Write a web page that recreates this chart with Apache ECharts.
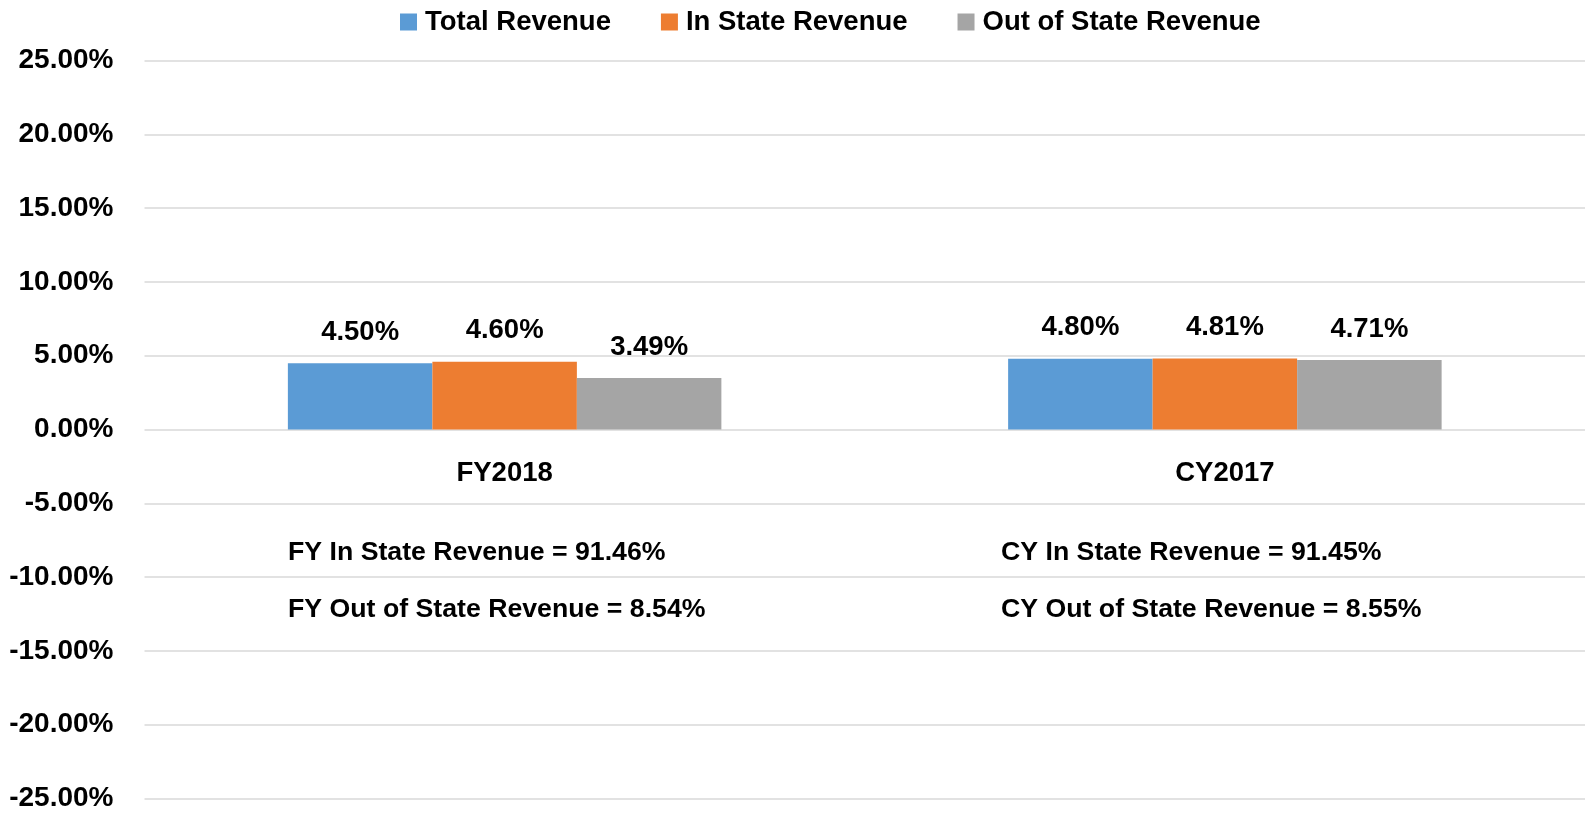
<!DOCTYPE html>
<html>
<head>
<meta charset="utf-8">
<title>Revenue growth</title>
<script src="https://cdn.jsdelivr.net/npm/echarts@6/dist/echarts.min.js"></script>
<style>
  html, body { margin: 0; padding: 0; background: #fff; }
  #chart { width: 1585px; height: 815px; }
</style>
</head>
<body>
<div id="chart"></div>
<script>
const categories = ['FY2018', 'CY2017'];
const totalRevenue = [4.50, 4.80];
const inStateRevenue = [4.60, 4.81];
const outOfStateRevenue = [3.49, 4.71];
const seriesNames = ['Total Revenue', 'In State Revenue', 'Out of State Revenue'];
const colors = ['#5B9BD5', '#ED7D31', '#A5A5A5'];
const notesFY = ['FY In State Revenue = 91.46%', 'FY Out of State Revenue = 8.54%'];
const notesCY = ['CY In State Revenue = 91.45%', 'CY Out of State Revenue = 8.55%'];

const FONT = '"Liberation Sans", Arial, sans-serif';

const chart = echarts.init(document.getElementById('chart'));

const barSeries = [totalRevenue, inStateRevenue, outOfStateRevenue].map((vals, i) => ({
  name: seriesNames[i],
  type: 'bar',
  data: vals,
  barWidth: 144.5,
  barGap: '0%',
  itemStyle: { color: colors[i] },
  label: {
    show: true,
    position: 'top',
    distance: 17,
    color: '#000',
    fontFamily: FONT,
    fontWeight: 'bold',
    fontSize: 27.5,
    formatter: (p) => p.value.toFixed(2) + '%',
  },
}));

// text boxes under each category
const noteText = (lines, left) =>
  lines.map((t, i) => ({
    type: 'text',
    left: left,
    top: 539 + i * 57,
    style: {
      text: t,
      fill: '#000',
      font: 'bold 26.7px ' + FONT,
    },
  }));

const option = {
  backgroundColor: '#fff',
  animation: false,
  legend: {
    left: 395,
    top: 3,
    itemWidth: 17,
    itemHeight: 17,
    itemGap: 50,
    icon: 'rect',
    textStyle: {
      color: '#000',
      fontFamily: FONT,
      fontWeight: 'bold',
      fontSize: 27.5,
      padding: [0, 0, 0, 3],
    },
    data: seriesNames,
  },
  grid: {
    left: 144.5,
    right: 0,
    top: 60.6,
    bottom: 16.5,
    containLabel: false,
    outerBoundsMode: 'none',
  },
  xAxis: {
    type: 'category',
    data: categories,
    position: 'bottom',
    // category labels sit just under the 0% line
    offset: -369,
    axisLine: { show: false, onZero: false },
    axisTick: { show: false },
    axisLabel: {
      margin: 30,
      color: '#000',
      fontFamily: FONT,
      fontWeight: 'bold',
      fontSize: 27.5,
    },
  },
  yAxis: {
    type: 'value',
    min: -25,
    max: 25,
    interval: 5,
    axisLine: { show: false },
    axisTick: { show: false },
    splitLine: { lineStyle: { color: '#D9D9D9', width: 1.5 } },
    axisLabel: {
      margin: 31,
      color: '#000',
      fontFamily: FONT,
      fontWeight: 'bold',
      fontSize: 28,
      formatter: (v) => v.toFixed(2) + '%',
    },
  },
  graphic: [...noteText(notesFY, 288), ...noteText(notesCY, 1001)],
  series: barSeries,
};

chart.setOption(option);
</script>
</body>
</html>
